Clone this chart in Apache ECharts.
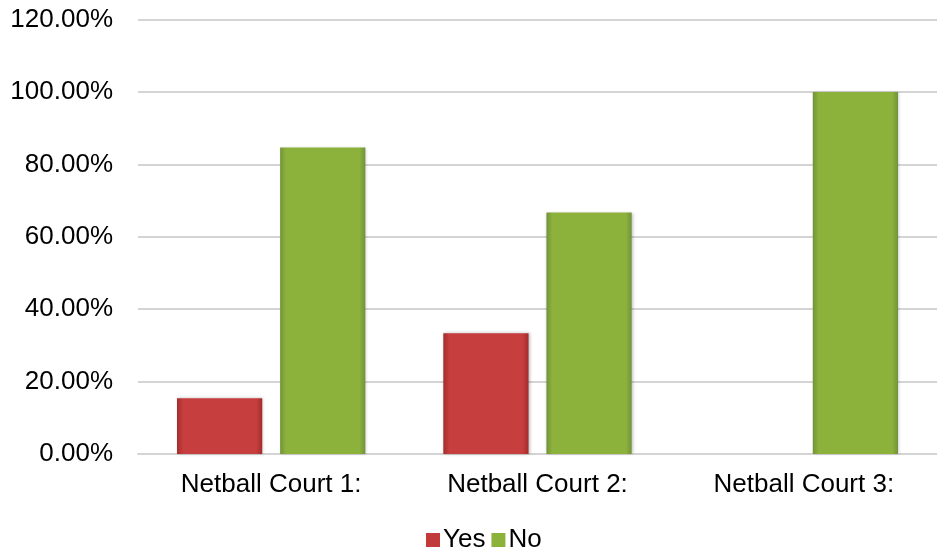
<!DOCTYPE html>
<html>
<head>
<meta charset="utf-8">
<script src="https://cdn.jsdelivr.net/npm/echarts@6/dist/echarts.min.js"></script>
<style>
  html, body { margin: 0; padding: 0; background: #fff; }
  #chart { width: 937px; height: 555px; }
</style>
</head>
<body>
<div id="chart"></div>
<script>
var courts = ['Netball Court 1:', 'Netball Court 2:', 'Netball Court 3:'];
var yesVals = [15.38, 33.33, 0];
var noVals = [84.62, 66.67, 100];

function barColor(edge, mid) {
    return new echarts.graphic.LinearGradient(0, 0, 1, 0, [
        { offset: 0, color: edge },
        { offset: 0.07, color: mid },
        { offset: 0.93, color: mid },
        { offset: 1, color: edge }
    ]);
}

var myChart = echarts.init(document.getElementById('chart'));

option = {
    animation: false,
    textStyle: {
        fontFamily: 'Liberation Sans, Arial, sans-serif'
    },
    grid: {
        left: 138,
        right: 0,
        top: 19.5,
        bottom: 101
    },
    legend: {
        left: 421,
        top: 522,
        icon: 'rect',
        itemWidth: 14,
        itemHeight: 14,
        itemGap: 6,
        textStyle: { fontSize: 26, color: '#000', padding: [0, 0, 0, -2] },
        data: [
            { name: 'Yes', itemStyle: { color: '#c23b3b' } },
            { name: 'No', itemStyle: { color: '#8db23c' } }
        ]
    },
    xAxis: {
        type: 'category',
        data: courts,
        axisLine: { lineStyle: { color: '#d4d4d4', width: 2 } },
        axisTick: { show: false },
        axisLabel: { fontSize: 26, color: '#000', margin: 18 }
    },
    yAxis: {
        type: 'value',
        min: 0,
        max: 120,
        interval: 20,
        axisLabel: {
            fontSize: 26,
            color: '#000',
            margin: 25,
            formatter: function (v) { return v.toFixed(2) + '%'; }
        },
        splitLine: { lineStyle: { color: '#d4d4d4', width: 2 } }
    },
    series: [
        {
            name: 'Yes',
            type: 'bar',
            data: yesVals,
            barWidth: '32%',
            barGap: '21%',
            itemStyle: {
                color: barColor('#a32c2c', '#c63e3e'),
                shadowColor: 'rgba(0,0,0,0.25)',
                shadowBlur: 3,
                shadowOffsetX: 1
            }
        },
        {
            name: 'No',
            type: 'bar',
            data: noVals,
            barWidth: '32%',
            itemStyle: {
                color: barColor('#72933a', '#8db23c'),
                shadowColor: 'rgba(0,0,0,0.25)',
                shadowBlur: 3,
                shadowOffsetX: 1
            }
        }
    ]
};

myChart.setOption(option);
</script>
</body>
</html>
